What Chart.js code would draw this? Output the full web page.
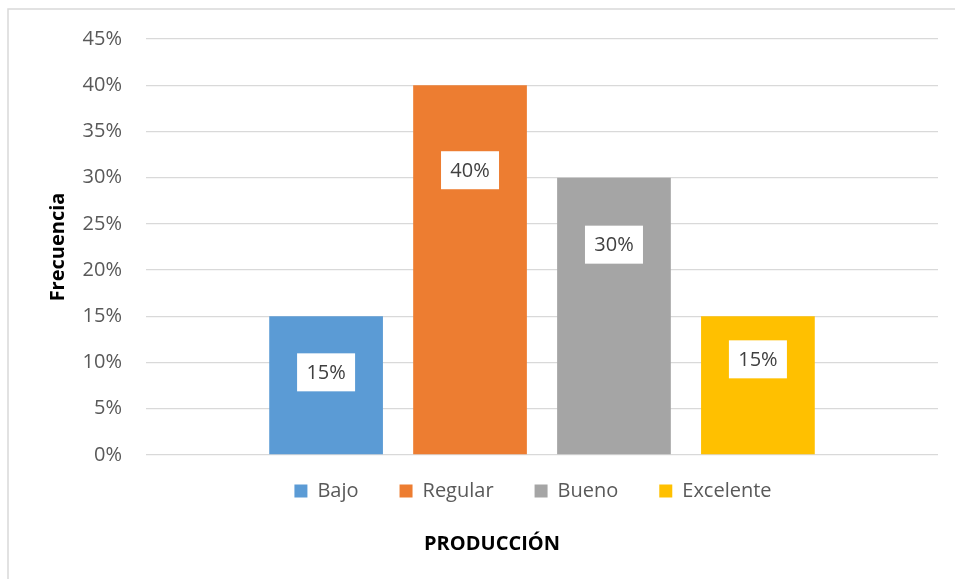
<!DOCTYPE html>
<html>
<head>
<meta charset="utf-8">
<script src="https://cdn.jsdelivr.net/npm/chart.js@4"></script>
<style>
    html, body { margin: 0; padding: 0; background: #ffffff; }
    canvas { display: block; }
</style>
</head>
<body>
<canvas id="production_plot" width="955" height="579"></canvas>
<script>
'use strict';

// Chart data (values in %)
const categories = [''];
const seriesNames = ['Bajo', 'Regular', 'Bueno', 'Excelente'];
const seriesValues = [15, 40, 30, 15];
const seriesColors = ['#5B9BD5', '#ED7D31', '#A5A5A5', '#FFC000'];
const yTicks = [0, 5, 10, 15, 20, 25, 30, 35, 40, 45];

const FONT = "'Open Sans', 'DejaVu Sans', sans-serif";

/**
 * Draw the light frame around the chart (only top and left edges are visible)
 */
const framePlugin = {
    id: 'frame',
    beforeDraw(chart) {
        const ctx = chart.ctx;
        ctx.save();
        ctx.strokeStyle = '#d9d9d9';
        ctx.lineWidth = 1.5;
        ctx.beginPath();
        ctx.moveTo(8, chart.height);
        ctx.lineTo(8, 9);
        ctx.lineTo(chart.width, 9);
        ctx.stroke();
        ctx.restore();
    }
};

/**
 * Move the legend to where Excel put it, under the plot
 */
const legendPlacePlugin = {
    id: 'legendPlace',
    afterLayout(chart, args, opts) {
        const legend = chart.legend;
        const h = legend.bottom - legend.top;
        legend.top = opts.top;
        legend.bottom = opts.top + h;
        legend.left += opts.shift;
        legend.right += opts.shift;
    }
};

/**
 * White boxed value labels inside each bar
 */
const valueLabelPlugin = {
    id: 'valueLabels',
    afterDatasetsDraw(chart, args, opts) {
        const ctx = chart.ctx;
        ctx.save();
        ctx.font = '20px ' + FONT;
        ctx.textAlign = 'center';
        ctx.textBaseline = 'middle';
        chart.data.datasets.forEach((ds, i) => {
            const bar = chart.getDatasetMeta(i).data[0];
            const cy = bar.y + opts.drop[i];
            ctx.fillStyle = '#ffffff';
            ctx.fillRect(bar.x - 29, cy - 19, 58, 38);
            ctx.fillStyle = '#404040';
            ctx.fillText(ds.data[0] + '%', bar.x, cy + 1);
        });
        ctx.restore();
    }
};

/**
 * Axis title under the legend
 */
const xTitlePlugin = {
    id: 'xTitle',
    afterDraw(chart, args, opts) {
        const ctx = chart.ctx;
        ctx.save();
        ctx.font = 'bold 20px ' + FONT;
        ctx.fillStyle = '#000000';
        ctx.textAlign = 'center';
        ctx.textBaseline = 'middle';
        ctx.fillText(opts.text, opts.x, opts.y);
        ctx.restore();
    }
};

const datasets = seriesNames.map((name, i) => ({
    label: name,
    data: [seriesValues[i]],
    backgroundColor: seriesColors[i],
    borderWidth: 0,
    categoryPercentage: 0.727,
    barPercentage: 0.79
}));

new Chart(document.getElementById('production_plot').getContext('2d'), {
    type: 'bar',
    data: {
        labels: categories,
        datasets: datasets
    },
    options: {
        responsive: false,
        animation: false,
        layout: {
            padding: { top: 39, right: 17, bottom: 53, left: 0 }
        },
        plugins: {
            legend: {
                position: 'bottom',
                fullSize: false,
                labels: {
                    boxWidth: 13,
                    boxHeight: 13,
                    padding: 41,
                    color: '#595959',
                    font: { family: FONT, size: 20 }
                }
            },
            tooltip: { enabled: false },
            legendPlace: { top: 440, shift: -9 },
            valueLabels: { drop: [56, 85, 67, 43] },
            xTitle: { text: 'PRODUCCIÓN', x: 492, y: 544 }
        },
        scales: {
            x: {
                ticks: { display: false },
                grid: { display: false, drawTicks: false },
                border: { display: false },
                afterFit(scale) { scale.height = 0; }
            },
            y: {
                min: 0,
                max: 45,
                afterFit(scale) { scale.width = 146; },
                afterBuildTicks(scale) { scale.ticks = yTicks.map(v => ({ value: v })); },
                ticks: {
                    color: '#595959',
                    padding: 24,
                    font: { family: FONT, size: 20 },
                    callback: v => v + '%'
                },
                grid: { color: '#d9d9d9', lineWidth: 1.3, drawTicks: false },
                border: { display: false },
                title: {
                    display: true,
                    text: 'Frecuencia',
                    color: '#000000',
                    padding: { top: 46, bottom: 0 },
                    font: { family: FONT, size: 20, weight: 'bold' }
                }
            }
        }
    },
    plugins: [framePlugin, legendPlacePlugin, valueLabelPlugin, xTitlePlugin]
});
</script>
</body>
</html>
